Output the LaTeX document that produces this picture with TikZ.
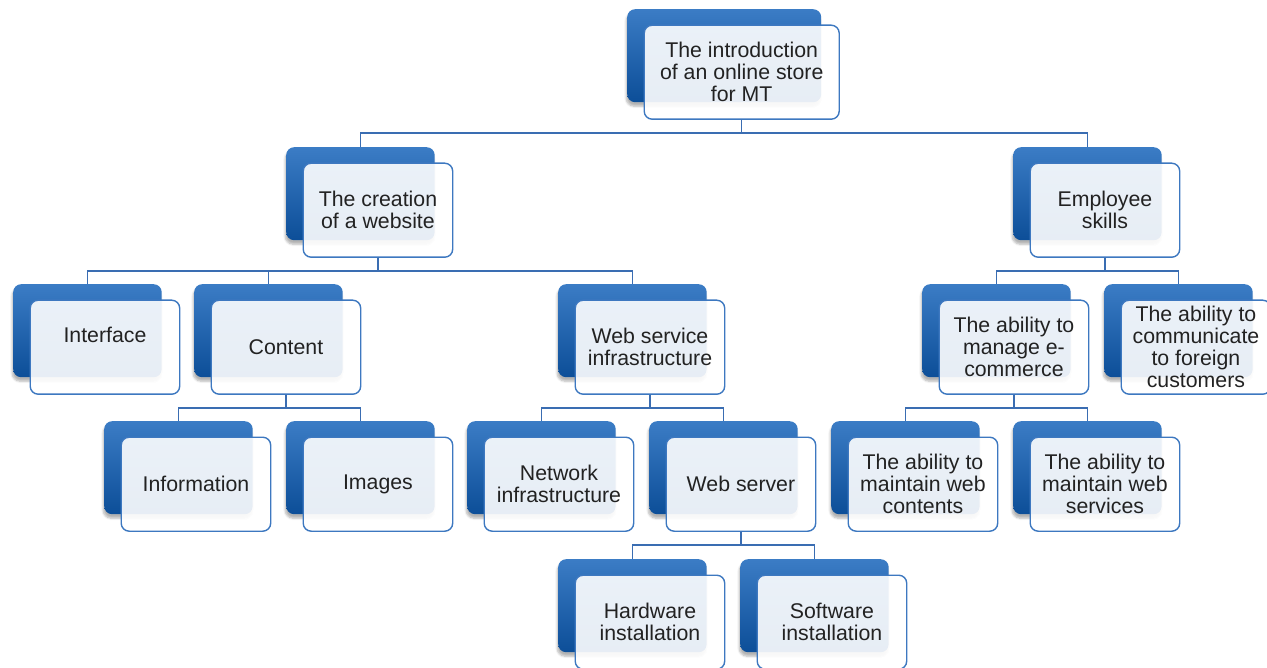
\documentclass[tikz,border=0pt]{standalone}
\usepackage{fontspec}
\setmainfont{Liberation Sans}
\usetikzlibrary{shadows.blur}

\definecolor{boxtop}{HTML}{3B7CC5}
\definecolor{boxbot}{HTML}{0C4E98}
\definecolor{rim}{HTML}{3D78C0}
\definecolor{wire}{HTML}{3A6DB2}
\definecolor{ink}{HTML}{222222}

\tikzset{
  backbox/.style={rectangle, rounded corners=8pt, minimum height=93pt,
    top color=boxtop, bottom color=boxbot, draw=none, inner sep=0pt,
    blur shadow={shadow xshift=-1pt, shadow yshift=-4pt, shadow blur steps=6,
      shadow opacity=30}},
  frontbox/.style={rectangle, rounded corners=8pt, minimum height=94pt,
    fill=white, fill opacity=0.9, text opacity=1, draw=rim, line width=1.4pt,
    inner sep=1pt, align=center, text=ink,
    font=\fontsize{21.3}{22}\selectfont},
  link/.style={draw=wire, line width=1.5pt},
}

% #1 name, #2 left, #3 top (pixel grid of the back tile), #4 width, #5 label
\newcommand\orgunit[5]{%
  \node[backbox, minimum width=#4pt, anchor=north west] (#1-b) at (#2,#3) {};
  \node[frontbox, minimum width=#4pt+1pt, anchor=north west] (#1) at (#2+16.5,#3+15.5) {#5};
}

\begin{document}
\begin{tikzpicture}[x=1pt, y=-1pt]
  \useasboundingbox (0,0) rectangle (1267,668);

  % tiles
  \orgunit{store}{627}{9}{194}{The introduction\\of an online store\\for MT}
  \orgunit{site}{286}{147}{148.5}{The creation\\of a website}
  \orgunit{skills}{1013}{147}{148.5}{Employee\\skills}
  \orgunit{iface}{13}{284}{148.5}{\raisebox{24pt}{Interface}}
  \orgunit{content}{194}{284}{148.5}{Content}
  \orgunit{websvc}{558}{284}{148.5}{Web service\\infrastructure}
  \orgunit{ecom}{922}{284}{148.5}{The ability to\\manage e-\\commerce}
  \orgunit{comm}{1104}{284}{148.5}{The ability to\\communicate\\to foreign\\customers}
  \orgunit{info}{104}{421}{148.5}{Information}
  \orgunit{images}{286}{421}{148.5}{Images}
  \orgunit{net}{467}{421}{148.5}{Network\\infrastructure}
  \orgunit{server}{649}{421}{148.5}{Web server}
  \orgunit{contents}{831}{421}{148.5}{The ability to\\maintain web\\contents}
  \orgunit{services}{1013}{421}{148.5}{The ability to\\maintain web\\services}
  \orgunit{hw}{558}{559}{148.5}{Hardware\\installation}
  \orgunit{sw}{740}{559}{148.5}{Software\\installation}

  % connectors: parent front tile down to a bus, across, down into each child
  \foreach \p/\c in {store/site, store/skills,
                     site/iface, site/content, site/websvc,
                     skills/ecom, skills/comm,
                     content/info, content/images,
                     websvc/net, websvc/server,
                     ecom/contents, ecom/services,
                     server/hw, server/sw}
    \draw[link] (\p.south) -- ++(0,13) -| (\c-b.north);
\end{tikzpicture}
\end{document}
